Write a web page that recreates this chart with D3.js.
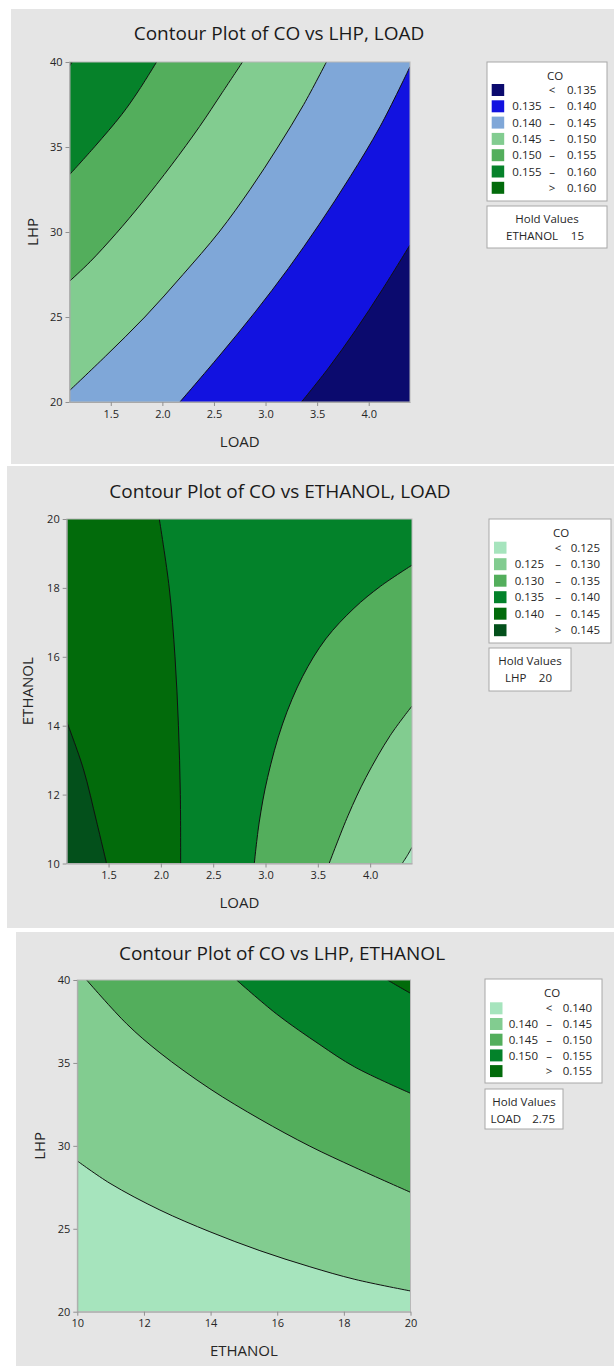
<!DOCTYPE html>
<html><head><meta charset="utf-8">
<script src="https://cdn.jsdelivr.net/npm/d3@7"></script>
<style>
html,body{margin:0;padding:0;background:#fff;}
svg{display:block;font-family:"Open Sans","Noto Sans",sans-serif;}
</style></head><body>
<svg id="chart" width="614" height="1369"></svg>
<script>
// ---------------- data ----------------
const loadDomain = [1.1, 4.4];
const lhpDomain = [20, 40];
const ethanolDomain = [10, 20];
const loadTicks = [1.5, 2.0, 2.5, 3.0, 3.5, 4.0];
const lhpTicks = [20, 25, 30, 35, 40];
const ethanolTicks = [10, 12, 14, 16, 18, 20];

// Panel 1: CO vs LHP, LOAD (hold ETHANOL 15)
const p1Levels = [0.135, 0.140, 0.145, 0.150, 0.155, 0.160];
const p1Colors = ["#0b0a6e", "#1212e0", "#7fa7d8", "#82cc90", "#53ae5c", "#06822a", "#026b0b"];
const p1Line160 = [[1.1, 39.75], [1.125, 40]];
const p1Line155 = [[1.1, 33.37], [1.347, 35.04], [1.605, 36.9], [1.766, 38.28], [1.944, 40]];
const p1Line150 = [[1.1, 27.1], [1.3, 28.25], [1.55, 29.9], [1.8, 31.7], [2.09, 33.95], [2.36, 36.2], [2.58, 38.2], [2.777, 40]];
const p1Line145 = [[1.1, 20.67], [1.45, 22.7], [1.83, 25.0], [2.2, 27.5], [2.55, 30.0], [2.85, 32.5], [3.12, 35.0], [3.37, 37.5], [3.59, 40]];
const p1Line140 = [[2.17, 20], [2.55, 22.7], [2.9, 25.3], [3.22, 27.85], [3.52, 30.45], [3.82, 33.25], [4.11, 36.2], [4.4, 39.72]];
const p1Line135 = [[3.348, 20], [3.61, 22.0], [3.87, 24.2], [4.13, 26.6], [4.4, 29.24]];
const p1Hold = ["ETHANOL", "15"];

// Panel 2: CO vs ETHANOL, LOAD (hold LHP 20)
const p2Levels = [0.125, 0.130, 0.135, 0.140, 0.145];
const p2Colors = ["#a6e4bd", "#82cc90", "#53ae5c", "#03822a", "#026b0b", "#03501b"];
const p2Line145 = [[1.481, 10], [1.386, 11.21], [1.258, 12.76], [1.1, 14.12]];
const p2Line140 = [[2.189, 10], [2.186, 12], [2.168, 14], [2.135, 16], [2.08, 18], [1.985, 20]];
const p2Line135 = [[2.893, 10], [2.94, 11.2], [3.02, 12.5], [3.163, 14.05], [3.353, 15.42], [3.576, 16.52], [3.846, 17.41], [4.1, 18.05], [4.4, 18.66]];
const p2Line130 = [[3.608, 10], [3.79, 11.4], [3.96, 12.5], [4.193, 13.72], [4.4, 14.57]];
const p2Line125 = [[4.306, 10], [4.355, 10.23], [4.4, 10.47]];
const p2Hold = ["LHP", "20"];

// Panel 3: CO vs LHP, ETHANOL (hold LOAD 2.75)
const p3Levels = [0.140, 0.145, 0.150, 0.155];
const p3Colors = ["#a6e4bd", "#82cc90", "#53ae5c", "#03822a", "#026b0b"];
const p3Line140 = [[10, 29.09], [10.98, 27.74], [12.48, 26.13], [13.98, 24.82], [15.48, 23.68], [16.98, 22.71], [18.33, 21.95], [20, 21.25]];
const p3Line145 = [[10.28, 40], [11.48, 37.36], [12.48, 35.61], [13.98, 33.44], [15.48, 31.61], [16.98, 29.98], [18.33, 28.7], [20, 27.2]];
const p3Line150 = [[14.78, 40], [15.98, 37.95], [17.28, 36.1], [18.33, 34.75], [20, 33.17]];
const p3Line155 = [[19.31, 40], [19.65, 39.6], [20, 39.2]];
const p3Hold = ["LOAD", "2.75"];

// ---------------- layout ----------------
const panels = [
  { title: "Contour Plot of CO vs LHP, LOAD", xLabel: "LOAD", yLabel: "LHP",
    bg: [11, 9, 603, 455], plot: { x0: 69.5, x1: 410, y0: 62, y1: 402 }, titleX: 279, titleY: 33,
    xDomain: loadDomain, yDomain: lhpDomain, xTicks: loadTicks, yTicks: lhpTicks, xFmt: ".1f",
    levels: p1Levels, colors: p1Colors, descending: true,
    lines: [[0.160, p1Line160], [0.155, p1Line155], [0.150, p1Line150], [0.145, p1Line145], [0.140, p1Line140], [0.135, p1Line135]],
    legend: { x: 487, y: 62, w: 120, h: 139, rowY: 90, rowH: 16.3, sw: 4.7, leftEnd: 54.7, mid: 65, rightEnd: 109.3 },
    hold: { x: 487, y: 206, w: 120, h: 42, nameX: 19, valEnd: 97 }, hv: p1Hold, yLabelX: 33, xLabelY: 442 },
  { title: "Contour Plot of CO vs ETHANOL, LOAD", xLabel: "LOAD", yLabel: "ETHANOL",
    bg: [7, 466, 607, 462], plot: { x0: 66.7, x1: 412, y0: 519, y1: 863.5 }, titleX: 280, titleY: 491,
    xDomain: loadDomain, yDomain: ethanolDomain, xTicks: loadTicks, yTicks: ethanolTicks, xFmt: ".1f",
    levels: p2Levels, colors: p2Colors, descending: true,
    lines: [[0.145, p2Line145], [0.140, p2Line140], [0.135, p2Line135], [0.130, p2Line130], [0.125, p2Line125]],
    legend: { x: 489, y: 519, w: 122, h: 124, rowY: 547.7, rowH: 16.5, sw: 5, leftEnd: 55, mid: 69, rightEnd: 111 },
    hold: { x: 489, y: 648, w: 82, h: 43, nameX: 16, valEnd: 63 }, hv: p2Hold, yLabelX: 28, xLabelY: 903 },
  { title: "Contour Plot of CO vs LHP, ETHANOL", xLabel: "ETHANOL", yLabel: "LHP",
    bg: [16, 932, 598, 434], plot: { x0: 77.3, x1: 410.5, y0: 980, y1: 1311.7 }, titleX: 282, titleY: 953,
    xDomain: ethanolDomain, yDomain: lhpDomain, xTicks: ethanolTicks, yTicks: lhpTicks, xFmt: "d",
    levels: p3Levels, colors: p3Colors, descending: false,
    lines: [[0.140, p3Line140], [0.145, p3Line145], [0.150, p3Line150], [0.155, p3Line155]],
    legend: { x: 485, y: 979, w: 117, h: 104, rowY: 1008.3, rowH: 15.7, sw: 5, leftEnd: 53, mid: 64, rightEnd: 107 },
    hold: { x: 485, y: 1089, w: 78, h: 40, nameX: 5.6, valEnd: 70 }, hv: p3Hold, yLabelX: 40, xLabelY: 1351 }
];

const svg = d3.select("#chart");
const fmt3 = d3.format(".3f");
const textCol = "#262626";

panels.forEach((P, pi) => {
  const g = svg.append("g");
  const r = P.plot;
  g.append("rect").attr("x", P.bg[0]).attr("y", P.bg[1]).attr("width", P.bg[2]).attr("height", P.bg[3]).attr("fill", "#e5e5e5");

  const x = d3.scaleLinear().domain(P.xDomain).range([r.x0, r.x1]);
  const y = d3.scaleLinear().domain(P.yDomain).range([r.y1, r.y0]);
  const W = r.x1 - r.x0, H = r.y1 - r.y0, PER = 2 * W + 2 * H;

  const clipId = "clip" + pi;
  g.append("clipPath").attr("id", clipId).append("rect")
    .attr("x", r.x0).attr("y", r.y0).attr("width", W).attr("height", H);
  const area = g.append("g").attr("clip-path", `url(#${clipId})`);

  const baseIdx = P.descending ? P.colors.length - 1 : 0;
  area.append("rect").attr("x", r.x0).attr("y", r.y0).attr("width", W).attr("height", H).attr("fill", P.colors[baseIdx]);

  const lineGen = d3.line().x(d => x(d[0])).y(d => y(d[1])).curve(d3.curveCatmullRom.alpha(0.5));

  function perimT(p) {
    const d = [Math.abs(p[1] - r.y0), Math.abs(p[0] - r.x1), Math.abs(p[1] - r.y1), Math.abs(p[0] - r.x0)];
    const e = d.indexOf(Math.min(...d));
    if (e === 0) return p[0] - r.x0;
    if (e === 1) return W + (p[1] - r.y0);
    if (e === 2) return W + H + (r.x1 - p[0]);
    return 2 * W + H + (r.y1 - p[1]);
  }
  const corners = [[r.x1, r.y0, W], [r.x1, r.y1, W + H], [r.x0, r.y1, 2 * W + H], [r.x0, r.y0, 0]];

  P.lines.forEach(([lev, pts]) => {
    // orient so that the next band lies on the clockwise side
    const ordered = P.descending ? pts : pts.slice().reverse();
    const band = P.descending ? P.levels.indexOf(lev) : P.levels.indexOf(lev) + 1;
    const px = ordered.map(d => [x(d[0]), y(d[1])]);
    const tEnd = perimT(px[px.length - 1]), tStart = perimT(px[0]);
    const span = ((tStart - tEnd) % PER + PER) % PER;
    const cs = corners.map(c => ({ p: [c[0], c[1]], dt: ((c[2] - tEnd) % PER + PER) % PER }))
      .filter(c => c.dt > 0 && c.dt < span).sort((a, b) => a.dt - b.dt);
    const path = lineGen(ordered) + cs.map(c => `L${c.p[0]},${c.p[1]}`).join("") + "Z";
    area.append("path").attr("d", path).attr("fill", P.colors[band]);
  });
  P.lines.forEach(([lev, pts]) => {
    area.append("path").attr("d", lineGen(pts)).attr("fill", "none").attr("stroke", "#111").attr("stroke-width", 1);
  });

  g.append("rect").attr("x", r.x0).attr("y", r.y0).attr("width", W).attr("height", H)
    .attr("fill", "none").attr("stroke", "#b8b8b8").attr("stroke-width", 1);

  // axes
  const xa = g.append("g").attr("transform", `translate(0,${r.y1})`)
    .call(d3.axisBottom(x).tickValues(P.xTicks).tickFormat(d3.format(P.xFmt)).tickSize(4).tickSizeOuter(0).tickPadding(4));
  const ya = g.append("g").attr("transform", `translate(${r.x0},0)`)
    .call(d3.axisLeft(y).tickValues(P.yTicks).tickFormat(d3.format("d")).tickSize(4).tickSizeOuter(0).tickPadding(3));
  [xa, ya].forEach(a => {
    a.select(".domain").attr("stroke", "#a8a8a8");
    a.selectAll(".tick line").attr("stroke", "#909090");
    a.selectAll(".tick text").attr("fill", textCol).style("font-size", "11px").style("font-family", "'Open Sans',sans-serif");
  });

  // titles & labels
  g.append("text").attr("x", P.titleX).attr("y", P.titleY).attr("dy", "0.36em")
    .attr("text-anchor", "middle").attr("fill", "#1a1a1a").style("font-size", "19px").text(P.title);
  g.append("text").attr("x", (r.x0 + r.x1) / 2).attr("y", P.xLabelY).attr("dy", "0.36em")
    .attr("text-anchor", "middle").attr("fill", textCol).style("font-size", "15px").text(P.xLabel);
  g.append("text").attr("transform", `translate(${P.yLabelX},${(r.y0 + r.y1) / 2}) rotate(-90)`).attr("dy", "0.36em")
    .attr("text-anchor", "middle").attr("fill", textCol).style("font-size", "15px").text(P.yLabel);

  // legend
  const L = P.legend;
  const lg = g.append("g");
  lg.append("rect").attr("x", L.x).attr("y", L.y).attr("width", L.w).attr("height", L.h)
    .attr("fill", "#fff").attr("stroke", "#a8a8a8");
  lg.append("text").attr("x", L.x + L.mid + 3).attr("y", L.y + 13.5).attr("dy", "0.36em")
    .attr("text-anchor", "middle").attr("fill", textCol).style("font-size", "11.5px").text("CO");
  const n = P.colors.length;
  const rows = d3.range(n).map(i => {
    if (i === 0) return { c: P.colors[0], lo: "", sym: "<", hi: fmt3(P.levels[0]) };
    if (i === n - 1) return { c: P.colors[n - 1], lo: "", sym: ">", hi: fmt3(P.levels[n - 2]) };
    return { c: P.colors[i], lo: fmt3(P.levels[i - 1]), sym: "–", hi: fmt3(P.levels[i]) };
  });
  rows.forEach((row, i) => {
    const cy = L.rowY + i * L.rowH;
    lg.append("rect").attr("x", L.x + L.sw).attr("y", cy - 6).attr("width", 12.5).attr("height", 12).attr("fill", row.c);
    const t = (xx, anchor, s) => lg.append("text").attr("x", xx).attr("y", cy).attr("dy", "0.36em")
      .attr("text-anchor", anchor).attr("fill", textCol).style("font-size", "11.5px").text(s);
    if (row.lo) t(L.x + L.leftEnd, "end", row.lo);
    t(L.x + L.mid, "middle", row.sym);
    t(L.x + L.rightEnd, "end", row.hi);
  });

  // hold values
  const Hd = P.hold;
  lg.append("rect").attr("x", Hd.x).attr("y", Hd.y).attr("width", Hd.w).attr("height", Hd.h)
    .attr("fill", "#fff").attr("stroke", "#a8a8a8");
  lg.append("text").attr("x", Hd.x + Hd.w / 2).attr("y", Hd.y + 13).attr("dy", "0.36em")
    .attr("text-anchor", "middle").attr("fill", textCol).style("font-size", "11.5px").text("Hold Values");
  lg.append("text").attr("x", Hd.x + Hd.nameX).attr("y", Hd.y + 29.5).attr("dy", "0.36em")
    .attr("fill", textCol).style("font-size", "11.5px").text(P.hv[0]);
  lg.append("text").attr("x", Hd.x + Hd.valEnd).attr("y", Hd.y + 29.5).attr("dy", "0.36em")
    .attr("text-anchor", "end").attr("fill", textCol).style("font-size", "11.5px").text(P.hv[1]);
});
</script>
</body></html>
